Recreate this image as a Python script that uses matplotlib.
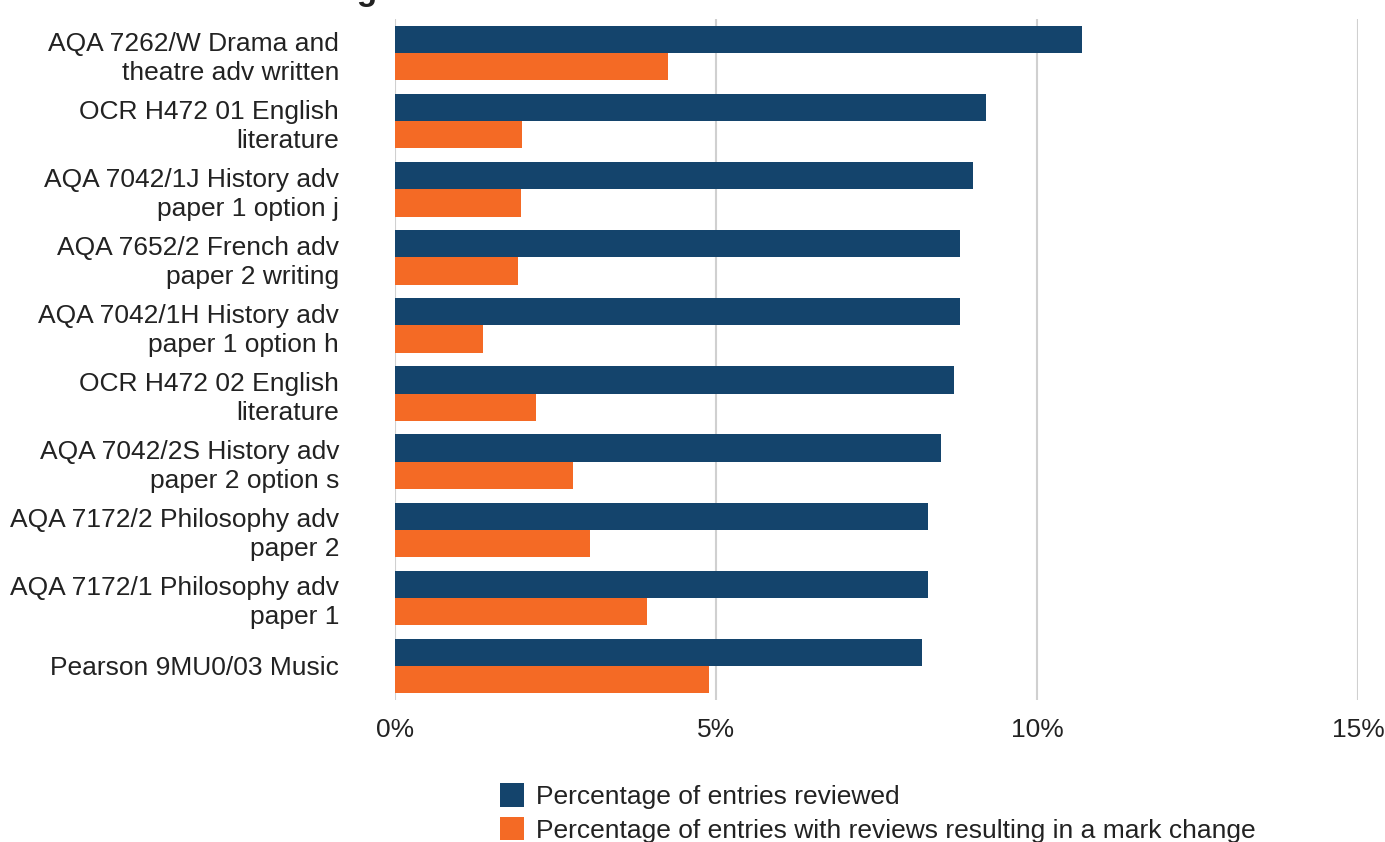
import numpy as np
import matplotlib.pyplot as plt

plt.rcParams['font.family'] = ['Liberation Sans', 'DejaVu Sans']

components = [
    "AQA 7262/W Drama and\ntheatre adv written",
    "OCR H472 01 English\nliterature",
    "AQA 7042/1J History adv\npaper 1 option j",
    "AQA 7652/2 French adv\npaper 2 writing",
    "AQA 7042/1H History adv\npaper 1 option h",
    "OCR H472 02 English\nliterature",
    "AQA 7042/2S History adv\npaper 2 option s",
    "AQA 7172/2 Philosophy adv\npaper 2",
    "AQA 7172/1 Philosophy adv\npaper 1",
    "Pearson 9MU0/03 Music",
]
reviewed = [10.7, 9.21, 9.0, 8.8, 8.8, 8.71, 8.5, 8.3, 8.3, 8.21]
mark_change = [4.25, 1.98, 1.96, 1.92, 1.37, 2.2, 2.77, 3.04, 3.93, 4.89]
series_names = ["Percentage of entries reviewed",
                "Percentage of entries with reviews resulting in a mark change"]

blue = '#14446C'
orange = '#F46A25'
fs = 19

fig = plt.figure(figsize=(13.85, 8.42), dpi=100)
ax = fig.add_axes([0.285, 0.1686, 0.6955, 0.8088])

y = np.arange(len(components))
h = 0.4
ax.barh(y - h / 2, reviewed, height=h, color=blue, label=series_names[0])
ax.barh(y + h / 2, mark_change, height=h, color=orange, label=series_names[1])

ax.set_xlim(0, 15)
ax.set_ylim(len(components) - 0.5, -0.5)
ax.set_xticks([0, 5, 10, 15])
ax.set_xticklabels(['0%', '5%', '10%', '15%'], fontsize=fs, color='#222222')
ax.set_yticks(y)
ax.set_yticklabels(components, fontsize=fs, color='#222222', linespacing=1.26)
ax.tick_params(axis='y', length=0, pad=40)
ax.tick_params(axis='x', length=0, pad=13)
ax.grid(axis='x', color='#d0d0d0', linewidth=1.5)
ax.set_axisbelow(True)
for s in ax.spines.values():
    s.set_visible(False)

# title, cut off at the top edge like in the source image
fig.text(377 / 1385, 1.0, "Most reviewed A level: ranking", ha='right', va='baseline',
         fontsize=24, fontweight='bold', color='#222222')

fig.legend(loc='upper left', bbox_to_anchor=(0.361, 0.07), frameon=False,
           fontsize=fs, handlelength=0.9, handleheight=1.0, handletextpad=0.45,
           labelspacing=0.3, borderpad=0, borderaxespad=0, labelcolor='#222222')

fig.savefig('out.png', dpi=100)
